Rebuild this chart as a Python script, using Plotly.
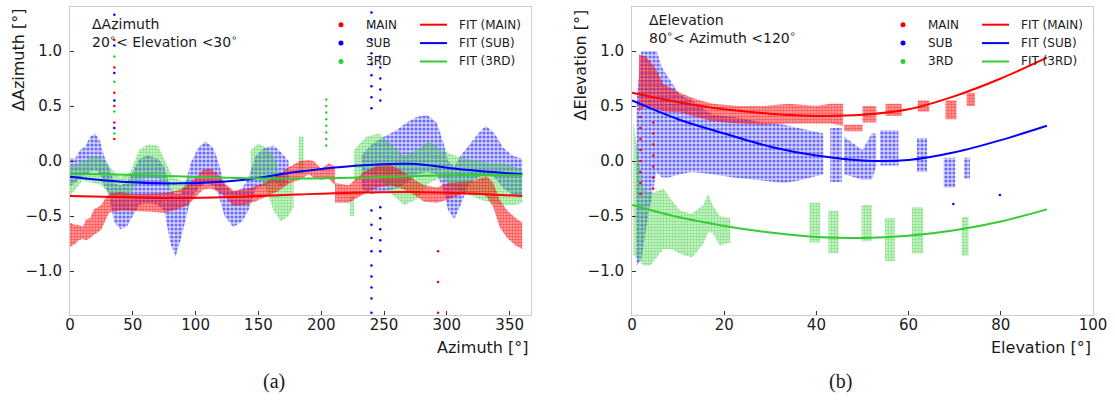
import plotly.graph_objects as go

W, H = 1115, 401

# ---------------- Panel (a): dAzimuth vs Azimuth (20 < El < 30) ----------------
# point clouds as (azimuth, low, high) envelopes, one list per cluster
MAIN_A = [
    [(0, -0.78, -0.56), (3.5, -0.76, -0.58), (7, -0.72, -0.58), (10, -0.71, -0.60), (13, -0.72, -0.53),
     (16, -0.70, -0.52), (19, -0.67, -0.44), (22, -0.65, -0.42), (25, -0.62, -0.40), (28, -0.55, -0.34),
     (31, -0.47, -0.30), (40, -0.45, -0.28), (48, -0.45, -0.30), (60, -0.46, -0.30), (75, -0.47, -0.29),
     (85, -0.44, -0.27), (94, -0.40, -0.22), (100, -0.33, -0.15), (106, -0.26, -0.08), (112, -0.25, -0.07),
     (118, -0.28, -0.12), (123, -0.32, -0.20), (130, -0.41, -0.27), (139, -0.40, -0.26), (147, -0.37, -0.23),
     (155, -0.33, -0.20), (165, -0.28, -0.13), (175, -0.20, -0.05), (183, -0.17, 0.00), (190, -0.12, 0.01),
     (194, -0.15, 0.00), (200, -0.17, -0.07), (206, -0.16, -0.02), (211, -0.22, -0.05)],
    [(211, -0.38, -0.20), (222, -0.38, -0.22), (234, -0.30, -0.10), (245, -0.24, -0.04), (256, -0.22, -0.04),
     (266, -0.26, -0.10), (274, -0.31, -0.17), (282, -0.37, -0.22), (292, -0.38, -0.24), (301, -0.35, -0.20),
     (312, -0.30, -0.19), (322, -0.30, -0.18), (328, -0.30, -0.15), (332, -0.33, -0.14), (337, -0.42, -0.20),
     (342, -0.60, -0.35), (348, -0.70, -0.45), (355, -0.77, -0.52), (360, -0.80, -0.56)],
]
SUB_A = [
    [(0, -0.23, 0.03), (4, -0.20, 0.02), (8, -0.15, 0.10), (12, -0.13, 0.13), (16, -0.10, 0.22),
     (20, -0.08, 0.25), (24, -0.12, 0.18), (27, -0.22, 0.05), (31, -0.30, -0.05), (35, -0.55, -0.20),
     (40, -0.62, -0.22), (45, -0.60, -0.20), (50, -0.50, -0.10), (55, -0.40, 0.02), (62, -0.38, 0.05),
     (70, -0.40, 0.02), (75, -0.45, -0.05), (80, -0.75, -0.25), (84, -0.87, -0.30), (88, -0.72, -0.30),
     (92, -0.55, -0.20), (96, -0.35, -0.02), (102, -0.25, 0.12), (108, -0.20, 0.18), (114, -0.22, 0.12),
     (118, -0.30, 0.00), (123, -0.50, -0.22), (130, -0.60, -0.28), (137, -0.55, -0.25), (142, -0.45, -0.15),
     (148, -0.25, 0.05), (155, -0.22, 0.12), (162, -0.20, 0.14), (168, -0.22, 0.08), (174, -0.20, 0.00)],
    [(232, -0.25, 0.05), (240, -0.30, 0.15), (250, -0.28, 0.22), (260, -0.25, 0.28), (268, -0.20, 0.35),
     (276, -0.12, 0.40), (284, -0.10, 0.42), (292, -0.12, 0.35), (297, -0.25, 0.18), (301, -0.45, 0.00),
     (306, -0.53, -0.05), (311, -0.40, 0.05), (318, -0.20, 0.15), (325, -0.15, 0.25), (331, -0.12, 0.32),
     (338, -0.15, 0.25), (345, -0.25, 0.12), (352, -0.30, 0.05), (360, -0.32, 0.02)],
]
THIRD_A = [
    [(0, -0.32, -0.05), (10, -0.18, 0.00), (19, -0.20, 0.04), (25, -0.22, 0.03), (31, -0.30, -0.05),
     (40, -0.35, -0.15), (48, -0.30, -0.10), (55, -0.18, 0.10), (62, -0.15, 0.15), (70, -0.15, 0.14),
     (76, -0.22, 0.00), (82, -0.28, -0.15), (90, -0.28, -0.18), (96, -0.25, -0.15)],
    [(144, -0.12, 0.10), (150, -0.15, 0.16), (156, -0.25, 0.12), (162, -0.45, 0.05), (168, -0.55, -0.15),
     (174, -0.50, -0.20), (178, -0.42, -0.15)],
    [(182, -0.11, 0.22), (186, -0.11, 0.22)],
    [(223, -0.50, -0.32), (226, -0.50, -0.32)],
    [(226, -0.20, 0.10), (236, -0.10, 0.22), (246, -0.15, 0.25), (256, -0.30, 0.15), (266, -0.40, 0.05),
     (276, -0.35, 0.10), (286, -0.20, 0.18), (296, -0.15, 0.10), (306, -0.25, 0.05), (316, -0.30, 0.02),
     (326, -0.35, 0.00), (336, -0.38, -0.02), (346, -0.40, -0.02), (354, -0.40, -0.05), (360, -0.38, -0.08)],
]
# sparse isolated points (azimuth, dAz)
MAIN_A_PTS_X = [35.3, 35.3, 35.3, 35.3, 35.3, 35.3, 293, 293, 293]
MAIN_A_PTS_Y = [1.10, 0.85, 0.62, 0.50, 0.35, 0.20, -0.82, -1.10, -1.38]
SUB_A_PTS_X = [35.3, 35.3, 35.3, 35.3, 35.3,
               240, 240, 240, 240, 240, 240, 240, 240, 240, 240, 240, 240, 240, 240, 240, 240, 240, 240,
               247, 247, 247, 247, 247, 247, 247, 247, 247, 247]
SUB_A_PTS_Y = [1.33, 1.05, 0.80, 0.55, 0.30,
               1.35, 1.22, 1.10, 0.98, 0.88, 0.78, 0.68, 0.58, 0.48, -0.45, -0.58, -0.70, -0.82, -0.95,
               -1.05, -1.15, -1.25, -1.38,
               0.95, 0.85, 0.75, 0.65, 0.55, -0.42, -0.52, -0.62, -0.72, -0.82]
THIRD_A_PTS_X = [35.3, 35.3, 35.3, 35.3, 35.3, 204, 204, 204, 204, 204, 204, 204, 204]
THIRD_A_PTS_Y = [1.20, 0.95, 0.72, 0.45, 0.25, 0.56, 0.50, 0.44, 0.38, 0.32, 0.26, 0.20, 0.14]
# fitted curves
FIT_A_X = [0, 45, 90, 135, 180, 225, 270, 315, 360]
FIT_A_MAIN = [-0.318, -0.330, -0.336, -0.325, -0.305, -0.288, -0.282, -0.295, -0.318]
FIT_A_SUB = [-0.142, -0.190, -0.203, -0.175, -0.100, -0.045, -0.025, -0.080, -0.121]
FIT_A_THIRD = [-0.115, -0.125, -0.142, -0.155, -0.160, -0.152, -0.138, -0.128, -0.130]

# ---------------- Panel (b): dElevation vs Elevation (80 < Az < 120) ----------------
MAIN_B = [
    [(1.5, 0.45, 0.97), (3, 0.50, 0.95), (5, 0.48, 0.85), (6.8, 0.45, 0.70), (10.4, 0.44, 0.62),
     (14, 0.40, 0.56), (17.5, 0.36, 0.52), (23, 0.34, 0.50), (28.5, 0.33, 0.50), (34, 0.34, 0.52),
     (40, 0.34, 0.50), (43, 0.34, 0.52), (45.8, 0.32, 0.52)],
    [(46, 0.27, 0.33), (50, 0.27, 0.33)],
    [(50, 0.35, 0.50), (53, 0.35, 0.50)],
    [(55, 0.41, 0.52), (58.5, 0.41, 0.52)],
    [(62, 0.45, 0.55), (64.5, 0.45, 0.55)],
    [(68, 0.38, 0.55), (70.4, 0.38, 0.55)],
    [(72.6, 0.50, 0.62), (74.4, 0.50, 0.62)],
]
SUB_B = [
    [(1, -0.95, 0.55), (2, -0.90, 1.00), (3.5, -0.50, 1.00), (5.3, -0.10, 1.00), (6.5, -0.15, 0.85),
     (8, -0.15, 0.75), (10.4, -0.12, 0.60), (13, -0.10, 0.55), (17.5, -0.12, 0.42), (22, -0.15, 0.40),
     (28.5, -0.18, 0.35), (33, -0.20, 0.33), (36, -0.18, 0.30), (41.5, -0.12, 0.25)],
    [(43, -0.19, 0.30), (45.5, -0.19, 0.30)],
    [(46, -0.12, 0.22), (48.5, -0.15, 0.15), (50, -0.17, 0.10), (52, -0.17, 0.25), (53, -0.05, 0.25)],
    [(53.8, -0.04, 0.28), (57.8, -0.04, 0.28)],
    [(61.8, -0.10, 0.21), (64, -0.10, 0.21)],
    [(67.6, -0.24, 0.03), (70.1, -0.24, 0.03)],
    [(72, -0.16, 0.03), (73.3, -0.16, 0.03)],
]
THIRD_B = [
    [(0.3, -0.85, 0.35), (1.5, -0.90, 0.00), (2.5, -0.95, -0.25), (4, -0.95, -0.30), (6.8, -0.80, -0.25),
     (8.5, -0.80, -0.35), (10.4, -0.84, -0.45), (13, -0.88, -0.48), (15.5, -0.75, -0.40), (16.5, -0.65, -0.30),
     (17.5, -0.65, -0.40), (19, -0.77, -0.50), (21.3, -0.74, -0.52)],
    [(38.5, -0.74, -0.38), (40.8, -0.74, -0.38)],
    [(42.6, -0.84, -0.45), (44.8, -0.84, -0.45)],
    [(49.8, -0.73, -0.40), (52, -0.73, -0.40)],
    [(54.9, -0.91, -0.52), (57, -0.91, -0.52)],
    [(60.7, -0.84, -0.42), (63.2, -0.84, -0.42)],
    [(71.5, -0.86, -0.51), (73, -0.86, -0.51)],
]
MAIN_B_PTS_X = [1.8, 1.8, 1.8, 1.8, 1.8, 1.8, 1.8, 1.8, 4.6, 4.6, 4.6, 4.6, 4.6, 4.6, 4.6]
MAIN_B_PTS_Y = [0.40, 0.30, 0.20, 0.10, 0.00, -0.10, -0.20, -0.30, 0.35, 0.25, 0.15, 0.05, -0.05, -0.15, -0.25]
SUB_B_PTS_X = [69.7, 79.8]
SUB_B_PTS_Y = [-0.39, -0.31]
FIT_B_X = [0, 10, 20, 30, 40, 50, 60, 70, 80, 90]
FIT_B_MAIN = [0.62, 0.535, 0.47, 0.43, 0.41, 0.42, 0.47, 0.59, 0.75, 0.94]
FIT_B_SUB = [0.55, 0.38, 0.25, 0.13, 0.05, 0.005, 0.01, 0.08, 0.19, 0.32]
FIT_B_THIRD = [-0.40, -0.51, -0.59, -0.65, -0.69, -0.70, -0.68, -0.63, -0.55, -0.44]

SERIES = ["MAIN", "SUB", "3RD"]
COLORS = {"MAIN": "#ff0000", "SUB": "#0000ff", "3RD": "#32cd32"}
FILLS = {"MAIN": "rgba(255,0,0,0.32)", "SUB": "rgba(0,0,255,0.16)", "3RD": "rgba(50,205,50,0.20)"}
PAT = {"MAIN": (3, 0.6), "SUB": (4, 0.5), "3RD": (3, 0.5)}

Y_TICKS = [-1.0, -0.5, 0.0, 0.5, 1.0]
Y_TICKTEXT = ["\u22121.0", "\u22120.5", "0.0", "0.5", "1.0"]
XA_TICKS = [0, 50, 100, 150, 200, 250, 300, 350]
XB_TICKS = [0, 20, 40, 60, 80, 100]

FONT = "DejaVu Sans"
TXT = "#1a1a1a"


def band(clusters):
    xs, ys = [], []
    for c in clusters:
        x = [r[0] for r in c]
        lo = [r[1] for r in c]
        hi = [r[2] for r in c]
        xs += x + x[::-1] + [x[0], None]
        ys += hi + lo[::-1] + [hi[0], None]
    return xs, ys


fig = go.Figure()


def add_cloud(clusters, name, xa, ya):
    xs, ys = band(clusters)
    size, sol = PAT[name]
    fig.add_trace(go.Scatter(x=xs, y=ys, mode="lines", fill="toself", fillcolor=FILLS[name],
                             fillpattern=dict(shape=".", fgcolor=COLORS[name], size=size, solidity=sol,
                                              fillmode="overlay"),
                             line=dict(width=0, color=COLORS[name]), hoverinfo="skip",
                             showlegend=False, xaxis=xa, yaxis=ya))


def add_pts(px_, py_, name, xa, ya):
    fig.add_trace(go.Scatter(x=px_, y=py_, mode="markers", marker=dict(size=2.5, color=COLORS[name]),
                             hoverinfo="skip", showlegend=False, xaxis=xa, yaxis=ya))


def add_fit(fx, fy, name, xa, ya):
    fig.add_trace(go.Scatter(x=fx, y=fy, mode="lines", line=dict(color=COLORS[name], width=2, shape="spline"),
                             hoverinfo="skip", showlegend=False, xaxis=xa, yaxis=ya))


# panel a
add_cloud(SUB_A, "SUB", "x", "y")
add_cloud(THIRD_A, "3RD", "x", "y")
add_cloud(MAIN_A, "MAIN", "x", "y")
add_pts(SUB_A_PTS_X, SUB_A_PTS_Y, "SUB", "x", "y")
add_pts(THIRD_A_PTS_X, THIRD_A_PTS_Y, "3RD", "x", "y")
add_pts(MAIN_A_PTS_X, MAIN_A_PTS_Y, "MAIN", "x", "y")
add_fit(FIT_A_X, FIT_A_MAIN, "MAIN", "x", "y")
add_fit(FIT_A_X, FIT_A_SUB, "SUB", "x", "y")
add_fit(FIT_A_X, FIT_A_THIRD, "3RD", "x", "y")

# panel b
add_cloud(SUB_B, "SUB", "x2", "y2")
add_cloud(THIRD_B, "3RD", "x2", "y2")
add_cloud(MAIN_B, "MAIN", "x2", "y2")
add_pts(SUB_B_PTS_X, SUB_B_PTS_Y, "SUB", "x2", "y2")
add_pts(MAIN_B_PTS_X, MAIN_B_PTS_Y, "MAIN", "x2", "y2")
add_fit(FIT_B_X, FIT_B_MAIN, "MAIN", "x2", "y2")
add_fit(FIT_B_X, FIT_B_SUB, "SUB", "x2", "y2")
add_fit(FIT_B_X, FIT_B_THIRD, "3RD", "x2", "y2")


def px(x):
    return x / W


def py(y):
    return 1 - y / H


axis_common = dict(showgrid=False, zeroline=False, showline=True, mirror=True, linecolor="#cccccc",
                   linewidth=1, ticks="inside", ticklen=4, tickwidth=1, tickcolor="#333333",
                   automargin=False, tickfont=dict(family=FONT, size=15, color=TXT))

fig.update_layout(
    width=W, height=H, margin=dict(l=0, r=0, t=0, b=0, autoexpand=False),
    paper_bgcolor="white", plot_bgcolor="white", showlegend=False,
    xaxis=dict(domain=[px(70), px(531)], range=[0, 367], tickvals=XA_TICKS, anchor="y",
               ticklabelstandoff=-4, **axis_common),
    yaxis=dict(domain=[py(315), py(7)], range=[-1.4, 1.4], tickvals=Y_TICKS, ticktext=Y_TICKTEXT,
               anchor="x", ticklabelstandoff=4, **axis_common),
    xaxis2=dict(domain=[px(632), px(1093)], range=[0, 100], tickvals=XB_TICKS, anchor="y2",
                ticklabelstandoff=-4, **axis_common),
    yaxis2=dict(domain=[py(315), py(7)], range=[-1.4, 1.4], tickvals=Y_TICKS, ticktext=Y_TICKTEXT,
                anchor="x2", ticklabelstandoff=4, **axis_common),
)

ann = []
shapes = []
f_title = dict(family=FONT, size=16, color=TXT)
f_note = dict(family=FONT, size=14, color=TXT)
f_leg = dict(family=FONT, size=12, color=TXT)

PANELS = [
    dict(off=0, ytitle="\u0394Azimuth [\u00b0]", xtitle="Azimuth [\u00b0]", right=531, ytx=18,
         l1="\u0394Azimuth", l2="20<sup>\u2218</sup>< Elevation <30<sup>\u2218</sup>", tx=90, y1=24, y2=41,
         cap="(a)", capx=274),
    dict(off=562, ytitle="\u0394Elevation [\u00b0]", xtitle="Elevation [\u00b0]", right=1093, ytx=580,
         l1="\u0394Elevation", l2="80<sup>\u2218</sup>< Azimuth <120<sup>\u2218</sup>", tx=647, y1=20, y2=37,
         cap="(b)", capx=840),
]
for p in PANELS:
    ann.append(dict(text=p["ytitle"], x=px(p["ytx"]), y=py(7), xref="paper", yref="paper", textangle=-90,
                    xanchor="center", yanchor="top", showarrow=False, font=f_title))
    ann.append(dict(text=p["xtitle"], x=px(p["right"]), y=py(347), xref="paper", yref="paper",
                    xanchor="right", yanchor="middle", showarrow=False, font=f_title))
    ann.append(dict(text=p["l1"], x=px(p["tx"]), y=py(p["y1"]), xref="paper", yref="paper",
                    xanchor="left", yanchor="middle", showarrow=False, font=f_note))
    ann.append(dict(text=p["l2"], x=px(p["tx"]), y=py(p["y2"]), xref="paper", yref="paper",
                    xanchor="left", yanchor="middle", showarrow=False, font=f_note))
    ann.append(dict(text=p["cap"], x=px(p["capx"]), y=py(381), xref="paper", yref="paper",
                    xanchor="center", yanchor="middle", showarrow=False,
                    font=dict(family="Liberation Serif", size=20, color=TXT)))
    # legend (two columns)
    o = p["off"]
    for i, s in enumerate(SERIES):
        ry = 24.7 + i * 18.4
        shapes.append(dict(type="circle", xref="paper", yref="paper", x0=px(o + 338.5), x1=px(o + 343.5),
                           y0=py(ry + 2.5), y1=py(ry - 2.5), fillcolor=COLORS[s], line=dict(width=0)))
        ann.append(dict(text=s, x=px(o + 364), y=py(ry), xref="paper", yref="paper", xanchor="left",
                        yanchor="middle", showarrow=False, font=f_leg))
        shapes.append(dict(type="line", xref="paper", yref="paper", x0=px(o + 420), x1=px(o + 447),
                           y0=py(ry), y1=py(ry), line=dict(color=COLORS[s], width=2)))
        ann.append(dict(text="FIT (%s)" % s, x=px(o + 457), y=py(ry), xref="paper", yref="paper",
                        xanchor="left", yanchor="middle", showarrow=False, font=f_leg))

fig.update_layout(annotations=ann, shapes=shapes)
fig.write_html("out.html", config={"displayModeBar": False},
               post_script="document.body.style.margin='0px';document.body.style.overflow='hidden';")
